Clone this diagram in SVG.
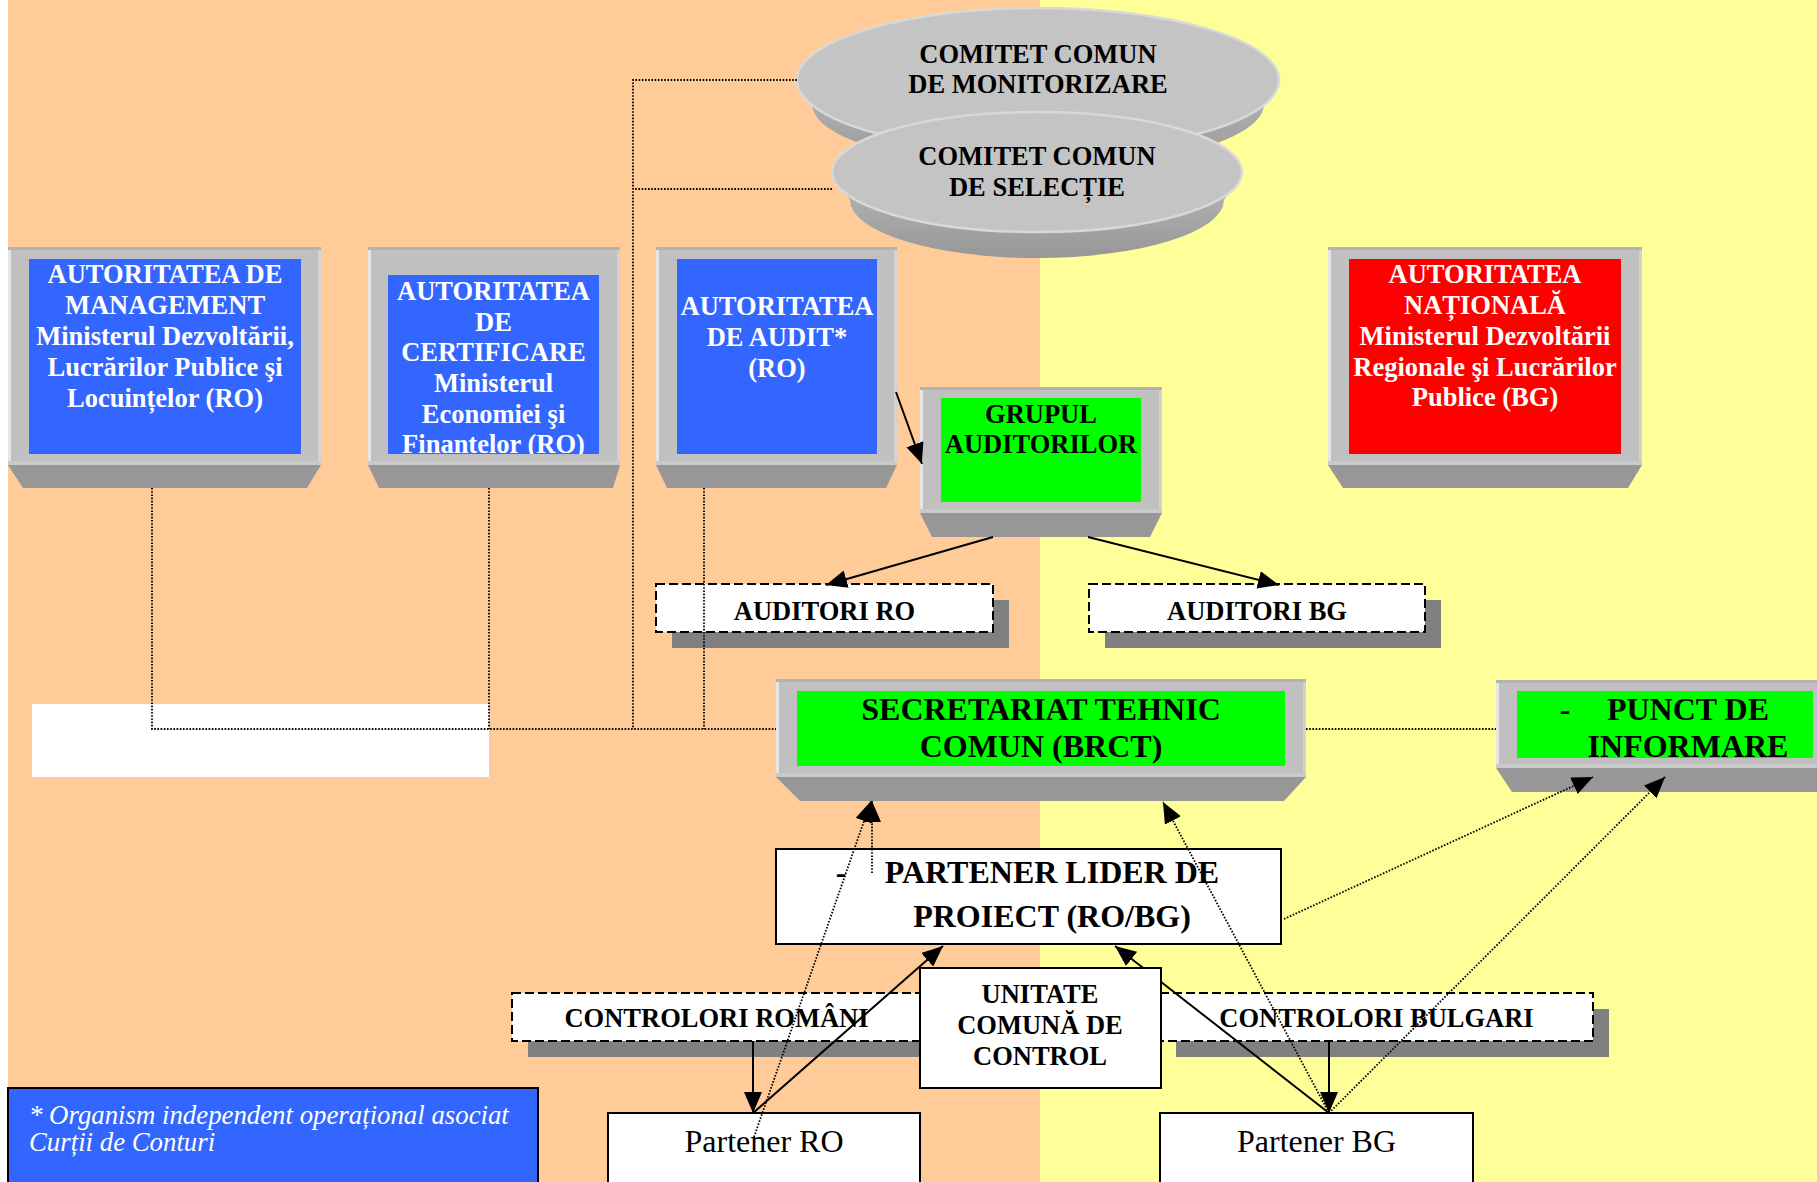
<svg xmlns="http://www.w3.org/2000/svg" width="1817" height="1182" viewBox="0 0 1817 1182">
<defs>
<style>
.t{font-family:"Liberation Serif","Times New Roman",serif;text-anchor:middle}
.b{font-weight:bold}
.m{font-size:26.5px}
.l{font-size:32px}
.w{fill:#fff}
.k{fill:#000}
.face{fill:#C0C0C0}
.hl{fill:#E6E6E6}
.tp{fill:#B2B2B2}
.rt{fill:#D2D2D2}
.bt{fill:#CACACA}
.base{fill:#979797}
.blue{fill:#3366FF}
.red{fill:#FF0000}
.green{fill:#00FF00}
.shadow{fill:#808080}
.dash{fill:#fff;stroke:#000;stroke-width:2;stroke-dasharray:9 4}
.box{fill:#fff;stroke:#000;stroke-width:2}
.dot{fill:none;stroke:#000;stroke-width:1.8;stroke-dasharray:1.6 1.6}
.sol{fill:none;stroke:#000;stroke-width:2}
.efa{fill:#C4C4C4;stroke:#D8D8D8;stroke-width:2.5}
.esd{fill:url(#sideg)}
.note{font-family:"Liberation Serif","Times New Roman",serif;font-style:italic;font-size:26.8px;fill:#fff}
</style>
<linearGradient id="sideg" x1="0" y1="0" x2="0" y2="1">
<stop offset="0" stop-color="#B8B8B8"/>
<stop offset="1" stop-color="#979797"/>
</linearGradient>
<marker id="ah" markerUnits="userSpaceOnUse" viewBox="0 0 21 18" markerWidth="21" markerHeight="18" refX="21" refY="9" orient="auto">
<path d="M0,0 L21,9 L0,18 Z" fill="#000"/>
</marker>
<clipPath id="clipCert"><rect x="388" y="275" width="211" height="179"/></clipPath>
<clipPath id="clipPunct"><rect x="1517" y="691" width="296" height="67"/></clipPath>
</defs>

<!-- background -->
<rect x="0" y="0" width="1817" height="1182" fill="#fff"/>
<rect x="8" y="0" width="1032" height="1182" fill="#FFCC99"/>
<rect x="1040" y="0" width="777" height="1182" fill="#FFFF99"/>
<rect x="32" y="704" width="457" height="73" fill="#fff"/>

<!-- committees -->
<g id="comitet-monitorizare">
<path class="esd" d="M797,80 L812,104 A226,64 0 0 0 1264,104 L1279,80 Z"/>
<ellipse class="efa" cx="1038" cy="80" rx="241" ry="72"/>
<text class="t b m k" x="1038" y="63">COMITET COMUN</text>
<text class="t b m k" x="1038" y="93">DE MONITORIZARE</text>
</g>
<g id="comitet-selectie">
<path class="esd" d="M832,172 L850,200 A187,58 0 0 0 1224,200 L1242,172 Z"/>
<ellipse class="efa" cx="1037" cy="172" rx="205" ry="60"/>
<text class="t b m k" x="1037" y="165">COMITET COMUN</text>
<text class="t b m k" x="1037" y="196">DE SELECȚIE</text>
</g>

<!-- Autoritatea de Management -->
<g id="autoritatea-management">
<rect class="face" x="8" y="247" width="313" height="218"/>
<rect class="tp" x="8" y="247" width="313" height="3"/>
<rect class="hl" x="8" y="250" width="3" height="215"/>
<rect class="rt" x="318" y="250" width="3" height="215"/>
<rect class="bt" x="8" y="461" width="313" height="4"/>
<polygon class="base" points="8,465 321,465 307,488 23,488"/>
<rect class="blue" x="29" y="259" width="272" height="195"/>
<text class="t b m w" x="165" y="283">AUTORITATEA DE</text>
<text class="t b m w" x="165" y="314">MANAGEMENT</text>
<text class="t b m w" x="165" y="345">Ministerul Dezvoltării,</text>
<text class="t b m w" x="165" y="376">Lucrărilor Publice şi</text>
<text class="t b m w" x="165" y="407">Locuințelor (RO)</text>
</g>

<!-- Autoritatea de Certificare -->
<g id="autoritatea-certificare">
<rect class="face" x="368" y="247" width="252" height="218"/>
<rect class="tp" x="368" y="247" width="252" height="3"/>
<rect class="hl" x="368" y="250" width="3" height="215"/>
<rect class="rt" x="617" y="250" width="3" height="215"/>
<rect class="bt" x="368" y="461" width="252" height="4"/>
<polygon class="base" points="368,465 620,465 613,488 379,488"/>
<rect class="blue" x="388" y="275" width="211" height="179"/>
<g clip-path="url(#clipCert)">
<text class="t b m w" x="493.5" y="300">AUTORITATEA</text>
<text class="t b m w" x="493.5" y="331">DE</text>
<text class="t b m w" x="493.5" y="361">CERTIFICARE</text>
<text class="t b m w" x="493.5" y="392">Ministerul</text>
<text class="t b m w" x="493.5" y="423">Economiei şi</text>
<text class="t b m w" x="493.5" y="453">Finantelor (RO)</text>
</g>
</g>

<!-- Autoritatea de Audit -->
<g id="autoritatea-audit">
<rect class="face" x="656" y="247" width="241" height="218"/>
<rect class="tp" x="656" y="247" width="241" height="3"/>
<rect class="hl" x="656" y="250" width="3" height="215"/>
<rect class="rt" x="894" y="250" width="3" height="215"/>
<rect class="bt" x="656" y="461" width="241" height="4"/>
<polygon class="base" points="656,465 897,465 886,488 667,488"/>
<rect class="blue" x="677" y="259" width="200" height="195"/>
<text class="t b m w" x="777" y="315">AUTORITATEA</text>
<text class="t b m w" x="777" y="346">DE AUDIT*</text>
<text class="t b m w" x="777" y="377">(RO)</text>
</g>

<!-- Grupul auditorilor -->
<g id="grupul-auditorilor">
<rect class="face" x="920" y="387" width="242" height="126"/>
<rect class="tp" x="920" y="387" width="242" height="3"/>
<rect class="hl" x="920" y="390" width="3" height="123"/>
<rect class="rt" x="1159" y="390" width="3" height="123"/>
<rect class="bt" x="920" y="509" width="242" height="4"/>
<polygon class="base" points="920,513 1162,513 1150,537 932,537"/>
<rect class="green" x="941" y="398" width="200" height="104"/>
<text class="t b m k" x="1041" y="423">GRUPUL</text>
<text class="t b m k" x="1041" y="453">AUDITORILOR</text>
</g>

<!-- Autoritatea Nationala -->
<g id="autoritatea-nationala">
<rect class="face" x="1328" y="247" width="314" height="218"/>
<rect class="tp" x="1328" y="247" width="314" height="3"/>
<rect class="hl" x="1328" y="250" width="3" height="215"/>
<rect class="rt" x="1639" y="250" width="3" height="215"/>
<rect class="bt" x="1328" y="461" width="314" height="4"/>
<polygon class="base" points="1328,465 1642,465 1628,488 1343,488"/>
<rect class="red" x="1349" y="259" width="272" height="195"/>
<text class="t b m w" x="1485" y="283">AUTORITATEA</text>
<text class="t b m w" x="1485" y="314">NAȚIONALĂ</text>
<text class="t b m w" x="1485" y="345">Ministerul Dezvoltării</text>
<text class="t b m w" x="1485" y="376">Regionale şi Lucrărilor</text>
<text class="t b m w" x="1485" y="406">Publice (BG)</text>
</g>

<!-- Auditori -->
<g id="auditori-ro">
<rect class="shadow" x="672" y="600" width="337" height="48"/>
<rect class="dash" x="656" y="584" width="337" height="48"/>
<text class="t b m k" x="824.5" y="620">AUDITORI RO</text>
</g>
<g id="auditori-bg">
<rect class="shadow" x="1105" y="600" width="336" height="48"/>
<rect class="dash" x="1089" y="584" width="336" height="48"/>
<text class="t b m k" x="1257" y="620">AUDITORI BG</text>
</g>

<!-- Secretariat -->
<g id="secretariat">
<rect class="face" x="776" y="679" width="530" height="98"/>
<rect class="tp" x="776" y="679" width="530" height="3"/>
<rect class="hl" x="776" y="682" width="3" height="95"/>
<rect class="rt" x="1303" y="682" width="3" height="95"/>
<rect class="bt" x="776" y="773" width="530" height="4"/>
<polygon class="base" points="776,777 1306,777 1284,801 800,801"/>
<rect class="green" x="797" y="691" width="488" height="75"/>
<text class="t b l k" x="1041" y="720">SECRETARIAT TEHNIC</text>
<text class="t b l k" x="1041" y="757">COMUN (BRCT)</text>
</g>

<!-- Punct de informare -->
<g id="punct-informare">
<rect class="face" x="1496" y="680" width="330" height="88"/>
<rect class="tp" x="1496" y="680" width="330" height="3"/>
<rect class="hl" x="1496" y="683" width="3" height="85"/>
<rect class="bt" x="1496" y="764" width="330" height="4"/>
<polygon class="base" points="1496,768 1830,768 1830,792 1512,792"/>
<rect class="green" x="1517" y="691" width="296" height="67"/>
<g clip-path="url(#clipPunct)">
<text class="t b l k" x="1565" y="720">-</text>
<text class="t b l k" x="1688" y="720">PUNCT DE</text>
<text class="t b l k" x="1688" y="757">INFORMARE</text>
</g>
</g>

<!-- Controlori -->
<g id="controlori-romani">
<rect class="shadow" x="528" y="1009" width="408" height="48"/>
<rect class="dash" x="512" y="993" width="408" height="48"/>
<text class="t b m k" x="716.5" y="1027">CONTROLORI ROMÂNI</text>
</g>
<g id="controlori-bulgari">
<rect class="shadow" x="1176" y="1009" width="433" height="48"/>
<rect class="dash" x="1160" y="993" width="433" height="48"/>
<text class="t b m k" x="1376.5" y="1027">CONTROLORI BULGARI</text>
</g>

<!-- Partener lider -->
<g id="partener-lider">
<rect class="box" x="776" y="849" width="505" height="95"/>
<text class="t b l k" x="841" y="883">-</text>
<text class="t b l k" x="1052" y="883">PARTENER LIDER DE</text>
<text class="t b l k" x="1052" y="927">PROIECT (RO/BG)</text>
</g>

<!-- Parteneri -->
<g id="partener-ro">
<rect class="box" x="608" y="1113" width="312" height="80"/>
<text class="t l k" x="764" y="1152">Partener RO</text>
</g>
<g id="partener-bg">
<rect class="box" x="1160" y="1113" width="313" height="80"/>
<text class="t l k" x="1316.5" y="1152">Partener BG</text>
</g>

<!-- Footnote -->
<g id="nota">
<rect x="8" y="1088" width="530" height="110" fill="#3366FF" stroke="#000" stroke-width="2"/>
<text class="note" x="29" y="1124">* Organism independent operațional asociat</text>
<text class="note" x="29" y="1151">Curții de Conturi</text>
</g>

<!-- connectors -->
<g id="connectors">
<polyline class="dot" points="797,80 633,80 633,729"/>
<line class="dot" x1="832" y1="189" x2="633" y2="189"/>
<polyline class="dot" points="152,488 152,729 776,729"/>
<line class="dot" x1="489" y1="488" x2="489" y2="729"/>
<line class="dot" x1="704" y1="488" x2="704" y2="729"/>
<line class="dot" x1="1306" y1="729" x2="1496" y2="729"/>

<line class="sol" x1="896" y1="392" x2="922" y2="464" marker-end="url(#ah)"/>
<line class="sol" x1="993" y1="537" x2="826" y2="585" marker-end="url(#ah)"/>
<line class="sol" x1="1088" y1="537" x2="1279" y2="585" marker-end="url(#ah)"/>

<line class="sol" x1="753" y1="1041" x2="753" y2="1113" marker-end="url(#ah)"/>
<line class="sol" x1="753" y1="1113" x2="943" y2="946" marker-end="url(#ah)"/>
<line class="sol" x1="1329" y1="1041" x2="1329" y2="1113" marker-end="url(#ah)"/>
<line class="sol" x1="1329" y1="1113" x2="1115" y2="946" marker-end="url(#ah)"/>

<line class="dot" x1="754" y1="1137" x2="871" y2="801" marker-end="url(#ah)"/>
<line class="dot" x1="872" y1="873" x2="872" y2="801" marker-end="url(#ah)"/>
<line class="dot" x1="1329" y1="1113" x2="1163" y2="802" marker-end="url(#ah)"/>
<line class="dot" x1="1329" y1="1113" x2="1665" y2="777" marker-end="url(#ah)"/>
<line class="dot" x1="1284" y1="919" x2="1593" y2="777" marker-end="url(#ah)"/>
</g>

<!-- Unitate comuna de control (drawn above connectors) -->
<g id="unitate-control">
<rect class="box" x="920" y="968" width="241" height="120"/>
<text class="t b m k" x="1040" y="1003">UNITATE</text>
<text class="t b m k" x="1040" y="1034">COMUNĂ DE</text>
<text class="t b m k" x="1040" y="1065">CONTROL</text>
</g>
</svg>
